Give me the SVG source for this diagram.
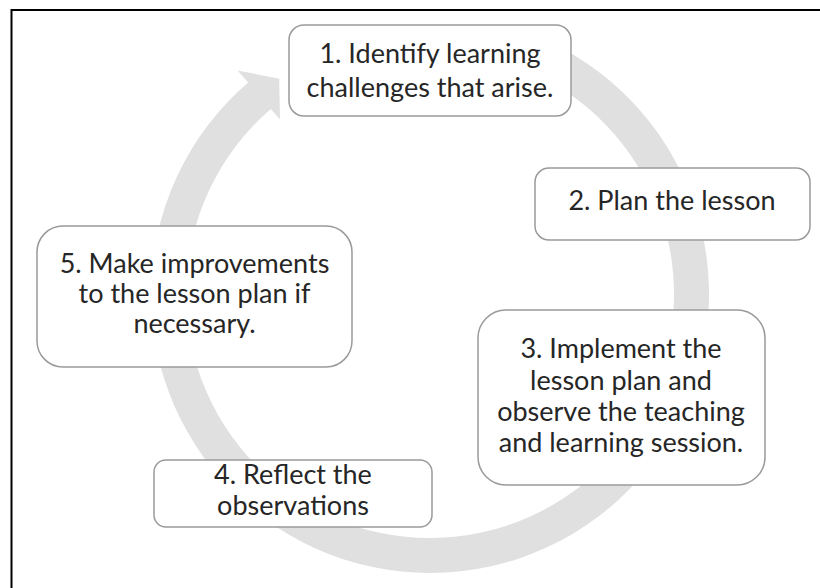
<svg xmlns="http://www.w3.org/2000/svg" width="820" height="588" viewBox="0 0 820 588">
  <style>
    .box { fill: #ffffff; stroke: #9a9a9a; stroke-width: 1.5; }
    .lbl { font-family: "Lato", "Open Sans", "Liberation Sans", sans-serif; font-size: 27px; fill: #262626; text-anchor: middle; }
    .ring { fill: #e0e0e0; stroke: none; }
    .frame { fill: none; stroke: #000000; stroke-width: 2; }
  </style>
  <rect width="820" height="588" fill="#ffffff"/>
  <path class="frame" d="M 11.5 588 L 11.5 10 L 820 10"/>
  <g id="connectors">
    <path class="ring" d="M 561.0 47.7 A 279 279 0 1 1 248.1 82.5 L 237.6 70.4 L 279.2 78.8 L 280.0 119.6 L 270.9 109.0 A 244 244 0 1 0 544.6 78.6 Z"/>
  </g>
  <g id="node1">
    <rect class="box" x="289" y="25" width="282" height="91" rx="15" ry="15"/>
    <text class="lbl" x="430" y="63">1. Identify learning</text>
    <text class="lbl" x="430" y="97">challenges that arise.</text>
  </g>
  <g id="node2">
    <rect class="box" x="535" y="168" width="275" height="72" rx="14" ry="14"/>
    <text class="lbl" x="672" y="210">2. Plan the lesson</text>
  </g>
  <g id="node3">
    <rect class="box" x="478" y="310" width="287" height="175" rx="28" ry="28"/>
    <text class="lbl" x="621" y="358">3. Implement the</text>
    <text class="lbl" x="621" y="390">lesson plan and</text>
    <text class="lbl" x="621" y="421">observe the teaching</text>
    <text class="lbl" x="621" y="452">and learning session.</text>
  </g>
  <g id="node4">
    <rect class="box" x="154" y="460" width="278" height="67" rx="12" ry="12"/>
    <text class="lbl" x="293" y="484">4. Reflect the</text>
    <text class="lbl" x="293" y="515">observations</text>
  </g>
  <g id="node5">
    <rect class="box" x="37" y="226" width="315" height="141" rx="26" ry="26"/>
    <text class="lbl" x="194.5" y="273">5. Make improvements</text>
    <text class="lbl" x="194.5" y="303">to the lesson plan if</text>
    <text class="lbl" x="194.5" y="333">necessary.</text>
  </g>
</svg>
